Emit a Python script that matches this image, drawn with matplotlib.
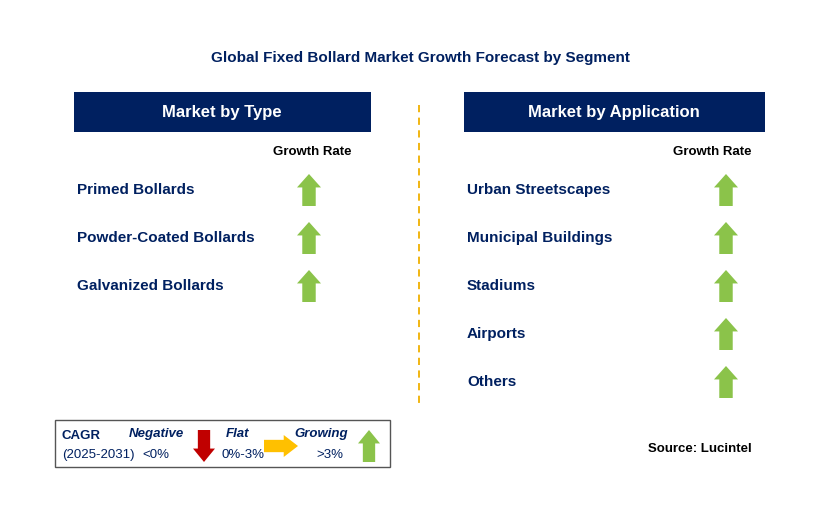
import matplotlib
matplotlib.use("Agg")
import matplotlib.pyplot as plt
from matplotlib.patches import Rectangle, Polygon

plt.rcParams["font.family"] = "Liberation Sans"

title = "Global Fixed Bollard Market Growth Forecast by Segment"
type_names = ["Primed Bollards", "Powder-Coated Bollards", "Galvanized Bollards"]
type_growth = ["up", "up", "up"]
app_names = ["Urban Streetscapes", "Municipal Buildings", "Stadiums", "Airports", "Others"]
app_growth = ["up", "up", "up", "up", "up"]

navy = "#002060"
green = "#8bc34a"
red = "#c00000"
amber = "#ffc000"

fig = plt.figure(figsize=(8.29, 5.13), dpi=100)
ax = fig.add_axes([0, 0, 1, 1])
ax.set_xlim(0, 829)
ax.set_ylim(513, 0)
ax.axis("off")


def arrow(x, y, kind, w=24, h=32):
    # x,y = centre of arrow
    hw, sw = w / 2, w * 0.28
    hh = h / 2
    if kind == "up":
        pts = [(x, y - hh), (x + hw, y - hh + h * 0.42), (x + sw, y - hh + h * 0.42),
               (x + sw, y + hh), (x - sw, y + hh), (x - sw, y - hh + h * 0.42),
               (x - hw, y - hh + h * 0.42)]
        c = green
    elif kind == "down":
        pts = [(x, y + hh), (x + hw, y + hh - h * 0.42), (x + sw, y + hh - h * 0.42),
               (x + sw, y - hh), (x - sw, y - hh), (x - sw, y + hh - h * 0.42),
               (x - hw, y + hh - h * 0.42)]
        c = red
    else:
        pts = [(x + hh, y), (x + hh - h * 0.42, y - hw), (x + hh - h * 0.42, y - sw),
               (x - hh, y - sw), (x - hh, y + sw), (x + hh - h * 0.42, y + sw),
               (x + hh - h * 0.42, y + hw)]
        c = amber
    ax.add_patch(Polygon(pts, closed=True, color=c, lw=0))


ax.text(420, 58, title, ha="center", va="center", fontsize=11, fontweight="bold", color=navy)

# left panel
ax.add_patch(Rectangle((74, 92), 297, 40, color=navy, lw=0))
ax.text(222, 112, "Market by Type", ha="center", va="center", fontsize=12, fontweight="bold", color="white")
ax.text(312, 152, "Growth Rate", ha="center", va="center", fontsize=9.5, fontweight="bold", color="black")
for i, (n, g) in enumerate(zip(type_names, type_growth)):
    y = 190 + i * 48
    ax.text(77, y, n, ha="left", va="center", fontsize=11, fontweight="bold", color=navy)
    arrow(309, y, g)

# right panel
ax.add_patch(Rectangle((464, 92), 301, 40, color=navy, lw=0))
ax.text(614, 112, "Market by Application", ha="center", va="center", fontsize=12, fontweight="bold", color="white")
ax.text(712, 152, "Growth Rate", ha="center", va="center", fontsize=9.5, fontweight="bold", color="black")
for i, (n, g) in enumerate(zip(app_names, app_growth)):
    y = 190 + i * 48
    ax.text(467, y, n, ha="left", va="center", fontsize=11, fontweight="bold", color=navy)
    arrow(726, y, g)

ax.plot([419, 419], [105, 405], color="#f0b000", lw=1.3, ls=(0, (4, 3)))

# legend box
ax.add_patch(Rectangle((55, 420), 335, 47, fill=False, ec="#555555", lw=1))
ax.text(62, 436, "CAGR", fontsize=9.5, fontweight="bold", color=navy, va="center")
ax.text(62, 455, "(2025-2031)", fontsize=9.5, color=navy, va="center")
ax.text(156, 434, "Negative", fontsize=9.5, fontweight="bold", style="italic", color=navy, ha="center", va="center")
ax.text(156, 455, "<0%", fontsize=9.5, color=navy, ha="center", va="center")
arrow(204, 446, "down", w=22, h=32)
ax.text(238, 434, "Flat", fontsize=9.5, fontweight="bold", style="italic", color=navy, ha="center", va="center")
ax.text(243, 455, "0%-3%", fontsize=9.5, color=navy, ha="center", va="center")
arrow(281, 446, "flat", w=22, h=34)
ax.text(321, 434, "Growing", fontsize=9.5, fontweight="bold", style="italic", color=navy, ha="center", va="center")
ax.text(330, 455, ">3%", fontsize=9.5, color=navy, ha="center", va="center")
arrow(369, 446, "up", w=22, h=32)

ax.text(700, 449, "Source: Lucintel", ha="center", va="center", fontsize=9.5, fontweight="bold", color="black")

fig.savefig("out.png", dpi=100)
